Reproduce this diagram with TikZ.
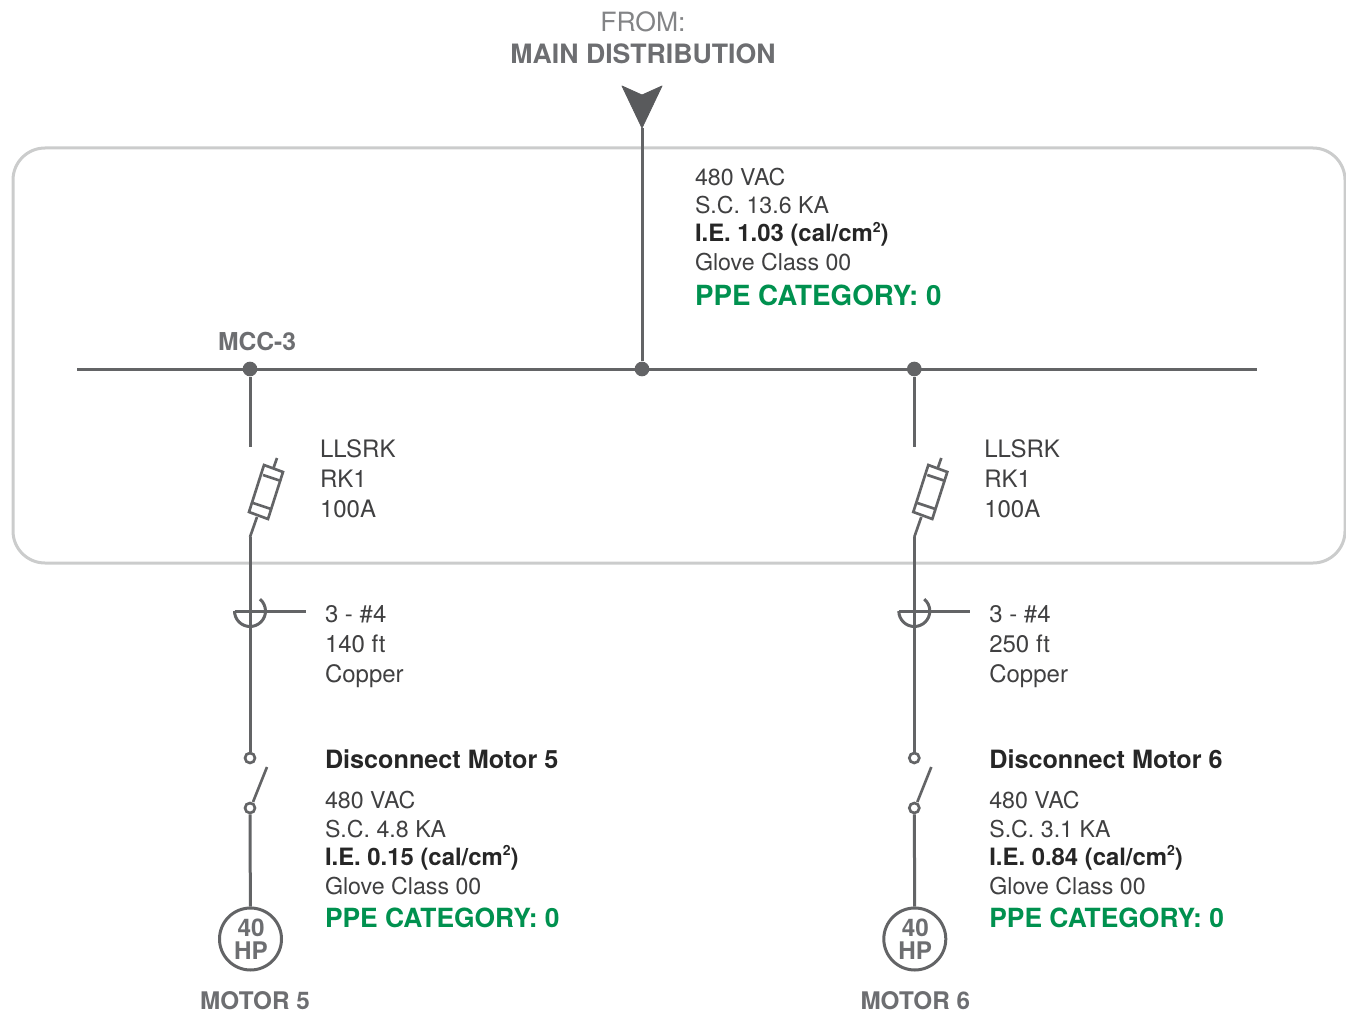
\documentclass[tikz,border=0pt]{standalone}
\usepackage{fontspec}
\usepackage{xcolor}
\setmainfont{TeX Gyre Heros}
\definecolor{WireGray}{HTML}{636466}
\definecolor{BoxGray}{HTML}{CBCCCC}
\definecolor{HeadGray}{HTML}{6D6E71}
\definecolor{TextGray}{HTML}{404041}
\definecolor{PpeGreen}{HTML}{00914F}
\newcommand{\sqtxt}{\raisebox{0.38em}{\fontsize{10.5}{12}\selectfont 2}}
\tikzset{
  wire/.style={draw=WireGray, line width=2.25pt},
  thinwire/.style={draw=WireGray, line width=2pt},
  txt/.style={anchor=base west, inner sep=0pt, outer sep=0pt, text=TextGray, font=\fontsize{17.4}{20}\selectfont},
  bigtxt/.style={txt, font=\fontsize{18}{20}\selectfont},
  boldtxt/.style={txt, text=black!85, font=\fontsize{17.9}{20}\selectfont\bfseries},
  head/.style={anchor=base, inner sep=0pt, outer sep=0pt, text=HeadGray, font=\fontsize{18.2}{20}\selectfont\bfseries},
  ppe/.style={txt, text=PpeGreen, font=\fontsize{20.8}{24}\selectfont\bfseries},
  dot/.style={circle, fill=WireGray, inner sep=0pt, minimum size=11pt},
  contact/.style={circle, draw=WireGray, fill=white, line width=2pt, inner sep=0pt, minimum size=7.5pt},
  motor/.style={circle, draw=WireGray, fill=white, line width=2.25pt, inner sep=0pt, minimum size=46.5pt},
}
\begin{document}
\begin{tikzpicture}[x=0.75pt,y=0.75pt]
\useasboundingbox (0,0) rectangle (1346,-1013);

% Draw the switchboard outline
\draw [draw=BoxGray, line width=2.25pt, rounded corners=24pt] (13,-148) rectangle (1345,-563);

% Incoming feeder
\node[head, font=\fontsize{19.9}{20}\selectfont, text=HeadGray!85] (fromtxt) at (643,-32) {\fontseries{m}\selectfont FROM:};
\node[head, font=\fontsize{20}{20}\selectfont\bfseries] (maintxt) at (643,-64) {MAIN DISTRIBUTION};
\coordinate (tip) at (642,-128);
\coordinate (busL) at (77,-369);
\coordinate (busR) at (1257,-369);
\draw [fill=WireGray!90!black, draw=WireGray!90!black, line width=0.6pt, line join=round] (622,-86) -- (642,-95) -- (662,-86) -- (tip) -- cycle;

% Bus
\draw [wire] (busL) -- (busR);
\node[dot] (feed) at (642,-369) {};
\draw [wire] (tip) -- (feed);
\node[head, anchor=base west, font=\fontsize{18.5}{20}\selectfont\bfseries] (mcc) at (218,-350) {MCC-3};

% Data at the main
\node[txt] (mainv) at (695,-186) {480 VAC};
\node[txt] (mainsc) at (695,-214) {S.C. 13.6 KA};
\node[boldtxt] (mainie) at (695,-242) {I.E. 1.03 (cal/cm\sqtxt)};
\node[txt] (mainglove) at (695,-270) {Glove Class 00};
\node[ppe] (mainppe) at (695,-305) {PPE CATEGORY: 0};

% Two motor branches
\foreach \x/\n/\len/\sc/\ie/\nameshift in {250/5/140/4.8/0.15/5, 914.3/6/250/3.1/0.84/1} {
  \begin{scope}[shift={(\x,0)}]
    \node[dot] (tap\n) at (0,-369) {};
    \coordinate (fusein\n) at (0,-447);
    \draw [wire] (tap\n) -- (fusein\n);

    % Fuse
    \draw [thinwire, line join=miter] (14,-465) -- (33,-472) -- (18,-519) -- (-1,-512) -- cycle;
    \draw [thinwire] (13,-475) -- (31,-481);
    \draw [thinwire] (3,-503) -- (21,-509);
    \draw [thinwire] (27,-458) -- (23.5,-468);

    % Cable down to the disconnect
    \node[contact] (top\n) at (0,-758) {};
    \node[contact] (bot\n) at (0,-808) {};
    \coordinate (bend\n) at (0,-537);
    \draw [thinwire] (7,-517) -- (bend\n);
    \draw [wire] (bend\n) -- (top\n);
    \draw [thinwire] (3,-802) -- (17,-767);

    % Conductor mark
    \draw [wire] (-15.5,-611) arc (180:410:15.5);
    \draw [wire] (-15.5,-611) -- (56,-611);

    % Motor
    \node[motor] (mot\n) at (0.5,-939) {};
    \draw [wire] (bot\n) -- (mot\n);
    \node[head] (hpa\n) at (1,-936) {40};
    \node[head] (hpb\n) at (1,-959) {HP};
    \node[head] (name\n) at (\nameshift,-1009.5) {MOTOR \n};

    % Labels
    \node[bigtxt] (fa\n) at (70,-457) {LLSRK};
    \node[bigtxt] (fb\n) at (70,-487) {RK1};
    \node[bigtxt] (fc\n) at (70,-517) {100A};
    \node[bigtxt] (ca\n) at (75,-622.5) {3 - \#4};
    \node[bigtxt] (cb\n) at (75,-652.5) {\len{} ft};
    \node[bigtxt] (cc\n) at (75,-682.5) {Copper};
    \node[boldtxt, font=\fontsize{18.9}{20}\selectfont\bfseries] (dis\n) at (75,-768) {Disconnect Motor \n};
    \node[txt] (dv\n) at (75,-808) {480 VAC};
    \node[txt] (dsc\n) at (75,-837) {S.C. \sc{} KA};
    \node[boldtxt] (die\n) at (75,-865) {I.E. \ie{} (cal/cm\sqtxt)};
    \node[txt] (dg\n) at (75,-894) {Glove Class 00};
    \node[ppe, font=\fontsize{19.8}{24}\selectfont\bfseries] (dppe\n) at (75,-927) {PPE CATEGORY: 0};
  \end{scope}
}
\end{tikzpicture}
\end{document}
